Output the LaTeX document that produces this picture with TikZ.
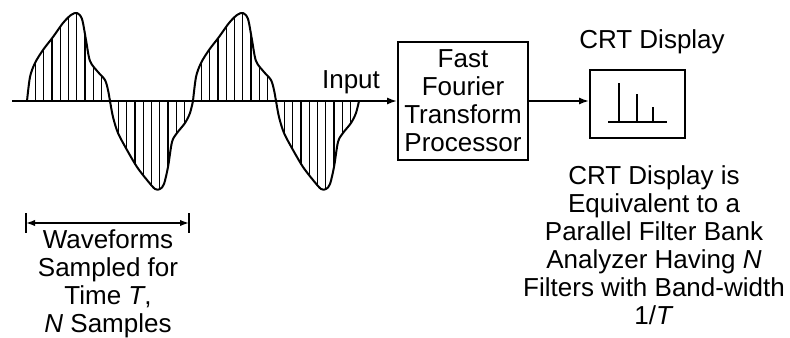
\documentclass[tikz,border=0pt]{standalone}
\usepackage{fontspec}
\setmainfont{Liberation Sans}
\usetikzlibrary{arrows.meta}
\begin{document}
\begin{tikzpicture}[x=0.5pt,y=-0.5pt,
  every node/.style={font=\fontsize{13}{14}\selectfont, inner sep=0pt},
  boxnode/.style={draw, line width=1pt, align=center},
  wire/.style={line width=0.9pt, -{Latex[length=5pt,width=3.6pt]}},
  hatch/.style={line width=0.65pt},
  wavecurve/.style={line width=1pt, line join=round},
  dimline/.style={line width=0.8pt, {Latex[length=4.5pt,width=3.2pt]}-{Latex[length=4.5pt,width=3.2pt]}},
  tick/.style={line width=1pt}]
\useasboundingbox (0,0) rectangle (790,337);
\newcommand\wavepath{plot[smooth,tension=0.5] coordinates {(27,101) (30,77) (35,63) (43,50) (53,37) (63,23) (71,15) (77,13) (82,19) (86,40) (90,61) (98,72) (105,80) (108,90) (110,101) (113,117) (118,133) (127,150) (137,167) (147,180) (155,189) (160,189) (164,184) (168,167) (172,142) (177,133) (185,123) (190,113) (193,101)}}
% waveform, two periods
\foreach \s in {0,166}{
  \begin{scope}[shift={(\s,0)}]
    \begin{scope}
      \clip \wavepath -- cycle;
      \foreach \k in {1,...,19}{
        \ifnum\k=10\else
          \draw[hatch] ({27+8.3*\k},0) -- ({27+8.3*\k},220);
        \fi}
    \end{scope}
    \draw[wavecurve] \wavepath;
  \end{scope}
}
% blocks
\node[boxnode, minimum width=65pt, minimum height=59pt] (fft) at (463,101)
  {Fast\\Fourier\\Transform\\Processor};
\node[draw, line width=1pt, minimum width=47.5pt, minimum height=34pt] (crt) at (637.5,104) {};
\coordinate (axstart) at (12,101);
\draw[wire] (axstart) -- (axstart -| fft.west);
\draw[wire] (fft.east) -- (fft.east -| crt.west);
\node[anchor=base] (inlab) at (351,88) {Input};
\node (crtlab) at (652,42) {CRT Display};
% spectrum lines
\draw[line width=1pt] (608,122) -- (667,122);
\draw[line width=1pt] (619,122) -- (619,83);
\draw[line width=1pt] (637,122) -- (637,94);
\draw[line width=1pt] (653,122) -- (653,107);
% time span
\coordinate (dl) at (26,223);
\coordinate (dr) at (189,223);
\draw[tick] (26,213) -- (26,233);
\draw[tick] (189,213) -- (189,233);
\draw[dimline] (dl) -- (dr);
\node[align=center] (wlab) at (108,284)
  {Waveforms\\Sampled for\\Time \textit{T},\\\textit{N} Samples};
\node[align=center] (rlab) at (654,245)
  {CRT Display is\\Equivalent to a\\Parallel Filter Bank\\Analyzer Having \textit{N}\\Filters with Band-width\\1/\textit{T}};
\end{tikzpicture}
\end{document}
